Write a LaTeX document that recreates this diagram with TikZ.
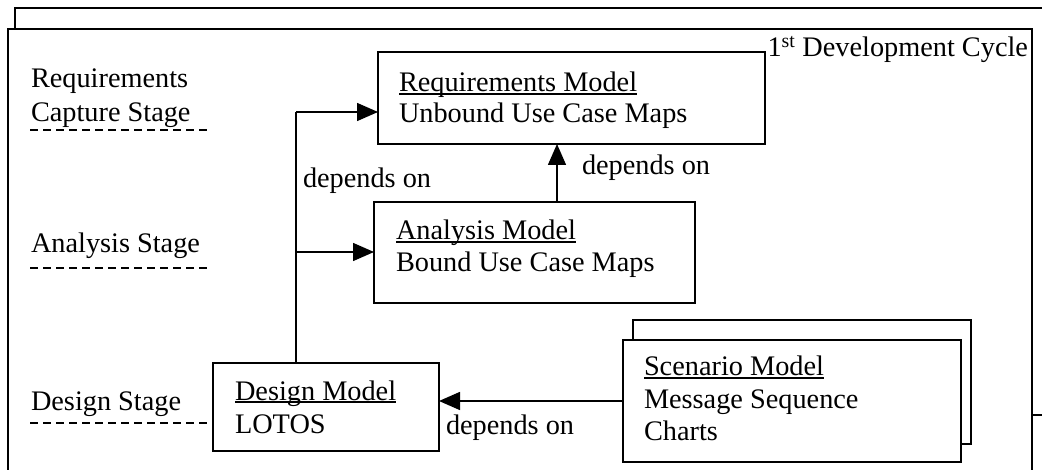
\documentclass[tikz,border=0pt]{standalone}
\usepackage{fontspec}
\setmainfont{Liberation Serif}
\usetikzlibrary{arrows.meta}
\newcommand\ulx[1]{\setbox0\hbox{#1}\rlap{\rule[-2.6pt]{\wd0}{1.3pt}}#1}
\begin{document}
\begin{tikzpicture}[x=1pt,y=-1pt,
  every node/.style={font=\fontsize{28.3}{32}\selectfont, inner sep=0pt, outer sep=0pt},
  txt/.style={anchor=base west},
  box/.style={draw, line width=1.5pt, fill=white, anchor=north west},
  frame/.style={draw, line width=1.5pt, fill=white},
  conn/.style={line width=1.5pt},
  arr/.style={conn, -{Triangle[length=21pt,width=18pt]}},
  stageline/.style={line width=1.5pt, dash pattern=on 8pt off 5pt}]
\useasboundingbox (0,0) rectangle (1042,470);
\clip (0,0) rectangle (1042,470);
% frames
\draw[frame] (15,8) rectangle (1070,415);
\draw[frame] (8,29) rectangle (1032,500);
\node[anchor=base east] (cycle) at (1028,57) {1\textsuperscript{st} Development Cycle};
% stage labels
\node[txt] (rs1) at (31,88) {Requirements};
\node[txt] (rs2) at (31,122) {Capture Stage};
\node[txt] (as) at (31,253) {Analysis Stage};
\node[txt] (ds) at (31,410) {Design Stage};
% boxes
\node[box, minimum width=387pt, minimum height=92pt] (req) at (378,52) {};
\node[box, minimum width=321pt, minimum height=101pt] (ana) at (374,202) {};
\node[box, minimum width=226pt, minimum height=88pt] (des) at (213,363) {};
\node[box, minimum width=338pt, minimum height=124pt] (scenb) at (633,320) {};
\node[box, minimum width=338pt, minimum height=122pt] (scen) at (623,340) {};
% stage lines
\draw[stageline] (30,130) -- (210,130);
\draw[stageline] (30,268) -- (210,268);
\draw[stageline] (30,423) -- (des.west |- 30,423);
% box texts
\node[txt] (req1) at (399,92) {\ulx{Requirements Model}};
\node[txt] (req2) at (399,123) {Unbound Use Case Maps};
\node[txt] (ana1) at (396,240) {\ulx{Analysis Model}};
\node[txt] (ana2) at (396,272) {Bound Use Case Maps};
\node[txt] (des1) at (235,400) {\ulx{Design Model}};
\node[txt] (des2) at (235,433) {LOTOS};
\node[txt] (sc1) at (644,376) {\ulx{Scenario Model}};
\node[txt] (sc2) at (644,408) {Message Sequence};
\node[txt] (sc3) at (644,440) {Charts};
% connectors
\coordinate (top) at (296,112);
\coordinate (mid) at (296,252);
\coordinate (au) at (557,202);
\draw[conn] (des.north -| top) -- (top);
\draw[arr] (top) -- (req.west |- top);
\draw[arr] (mid) -- (ana.west |- mid);
\draw[arr] (ana.north -| au) -- (req.south -| au);
\draw[arr] (scen.west) -- (des.east |- scen.west);
% labels
\node[txt] (dl1) at (303,188) {depends on};
\node[txt] (dl2) at (582,175) {depends on};
\node[txt] (dl3) at (446,435) {depends on};
\end{tikzpicture}
\end{document}
